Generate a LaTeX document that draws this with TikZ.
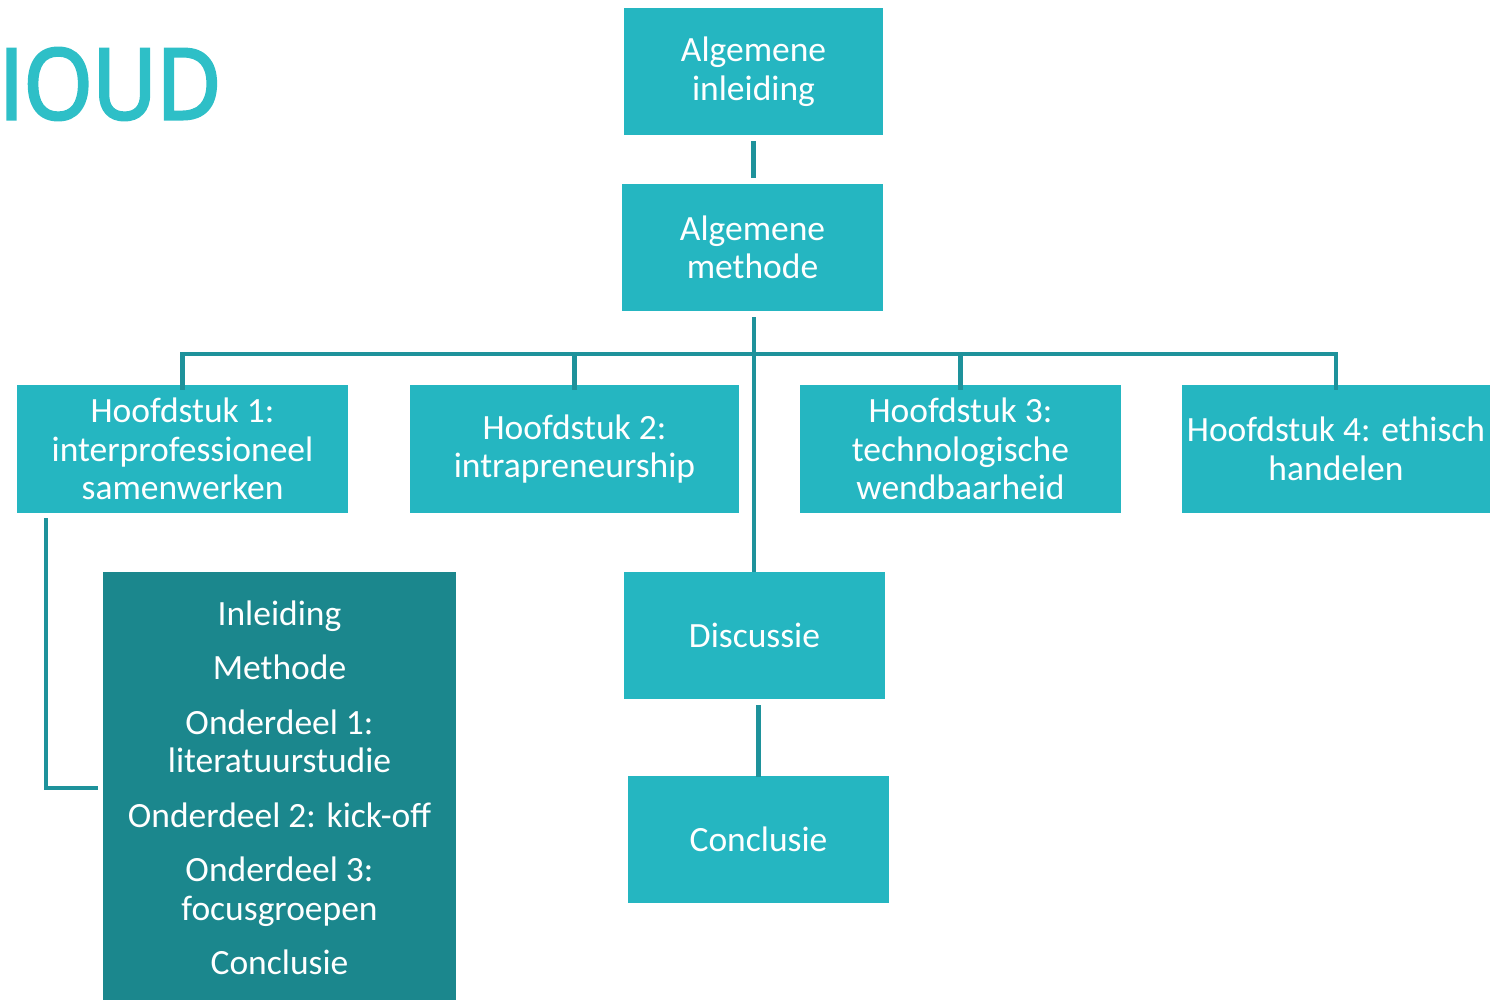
\documentclass[tikz,border=0pt]{standalone}
\usepackage{fontspec}
\setmainfont{Carlito}
\newfontfamily\titelfont[FakeBold=3, FakeStretch=0.9]{Open Sans}
\usepackage{tikz}
\usetikzlibrary{calc,positioning}
\definecolor{licht}{HTML}{25B6C1}
\definecolor{donker}{HTML}{1B878D}
\definecolor{lijnkleur}{HTML}{1E929B}
\definecolor{titel}{HTML}{2EBFC7}
\tikzset{>=latex,
  blok/.style={fill=licht, text=white, align=center, inner sep=0pt,
    font=\fontsize{35.5}{38.5}\selectfont},
  donkerblok/.style={blok, fill=donker},
  lijn/.style={draw=lijnkleur, line width=4.5pt}}

\begin{document}
\begin{tikzpicture}[x=1pt, y=-1pt]
\clip (0, 0) rectangle (1510, 1000); % page size

\node[text=titel, font=\titelfont\fontsize{98}{100}\selectfont, anchor=west, inner sep=0pt] (titelnode) at (-1, 84) {IOUD};

\node[blok, minimum width=259, minimum height=127] (inl) at (753.5, 71.5) {Algemene\\inleiding};
\node[blok, minimum width=261, minimum height=127] (meth) at (752.5, 247.5) {Algemene\\methode};

\node[blok, minimum width=331, minimum height=128] (h1) at (182.5, 449) {Hoofdstuk 1:\\interprofessioneel\\samenwerken};
\node[blok, minimum width=329, minimum height=128] (h2) at (574.5, 449) {Hoofdstuk 2:\\intrapreneurship};
\node[blok, minimum width=321, minimum height=128] (h3) at (960.5, 449) {Hoofdstuk 3:\\technologische\\wendbaarheid};
\node[blok, minimum width=308, minimum height=128] (h4) at (1336, 449) {Hoofdstuk 4: ethisch\\handelen};

\node[blok, minimum width=261, minimum height=127] (disc) at (754.5, 635.5) {Discussie};
\node[blok, minimum width=261, minimum height=127] (concl) at (758.5, 839.5) {Conclusie};

\node[donkerblok, minimum width=353, minimum height=432] (delen) at (279.5, 788)
{Inleiding\\[16pt] Methode\\[16pt] Onderdeel 1:\\literatuurstudie\\[16pt]
 Onderdeel 2: kick-off\\[16pt] Onderdeel 3:\\focusgroepen\\[16pt] Conclusie};

% verbindingen
\draw[lijn] ([yshift=-6]inl.south) -- ([yshift=6]inl.south |- meth.north);
\draw[lijn] ([xshift=1.5, yshift=-6]meth.south) -- ([xshift=1.5]meth.south |- disc.north);
\coordinate (bus) at ([yshift=-43]meth.south);
\draw[lijn] ([yshift=-5]h1.north) -- (h1.north |- bus) -- (h4.north |- bus) -- ([yshift=-5]h4.north);
\draw[lijn] ([yshift=-5]h2.north) -- (h2.north |- bus);
\draw[lijn] ([yshift=-5]h3.north) -- (h3.north |- bus);
\draw[lijn] ([yshift=-1]concl.north) -- ([yshift=-6]concl.north |- disc.south);
\draw[lijn] ([xshift=29, yshift=-5]h1.south west) |- ([xshift=-5]delen.west);

\end{tikzpicture}
\end{document}
